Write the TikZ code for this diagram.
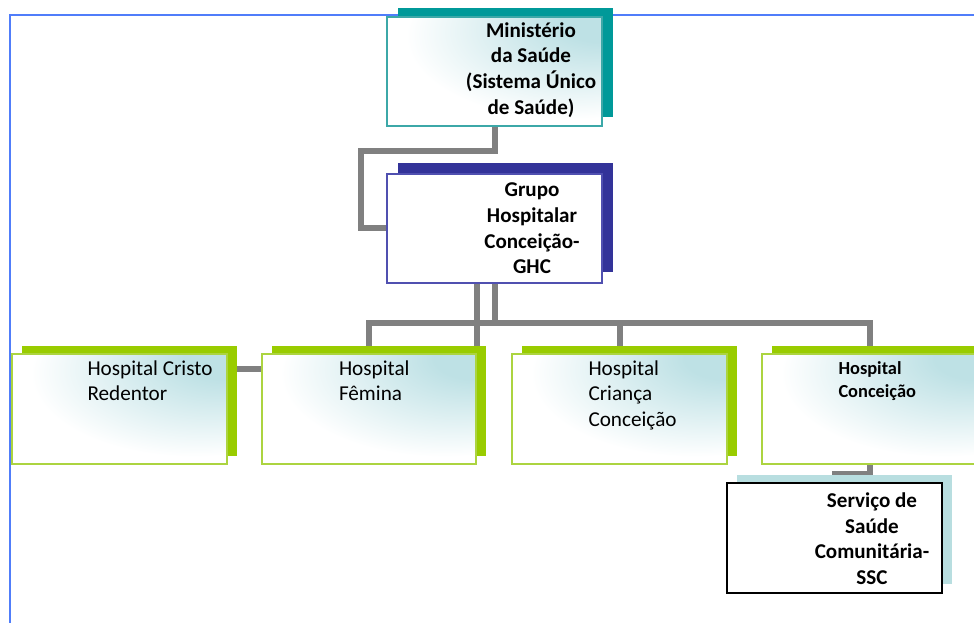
\documentclass[tikz,border=0pt]{standalone}
\usepackage{fontspec}
\setmainfont{Carlito}
\usetikzlibrary{calc,shadows,backgrounds}
\definecolor{msteal}{RGB}{0,153,153}
\definecolor{msedge}{RGB}{60,168,168}
\definecolor{ghcnavy}{RGB}{51,51,153}
\definecolor{ghcedge}{RGB}{80,80,176}
\definecolor{hospgreen}{RGB}{153,204,0}
\definecolor{hospedge}{RGB}{172,212,64}
\definecolor{sscshadow}{RGB}{184,222,224}
\definecolor{glowteal}{RGB}{190,225,229}
\definecolor{frameblue}{RGB}{80,125,250}
\definecolor{linkgray}{RGB}{128,128,128}
\pgfdeclareradialshading{glow}{\pgfpoint{28bp}{26bp}}{color(0bp)=(glowteal); color(10bp)=(glowteal); color(38bp)=(white); color(100bp)=(white)}
\tikzset{
  orgbox/.style={rectangle, minimum width=161pt, minimum height=82pt, inner sep=0pt, line width=1.4pt},
  glowbox/.style={orgbox, shade, shading=glow},
  hospbox/.style={glowbox, draw=hospedge, general shadow={shadow xshift=7.5pt, shadow yshift=6pt, fill=hospgreen}},
  link/.style={linkgray, line width=4.5pt},
  boldtext/.style={font=\bfseries\fontsize{15.8}{19.2}\selectfont, align=center, inner sep=0pt},
  hosptext/.style={font=\fontsize{15.9}{19}\selectfont, align=left, inner sep=0pt, anchor=north west},
  smalltext/.style={font=\bfseries\fontsize{13.8}{17}\selectfont, align=left, inner sep=0pt, anchor=north west}
}
\begin{document}
\begin{tikzpicture}[x=0.75pt,y=-0.75pt]
\useasboundingbox (0,0) rectangle (974,623);
\node[glowbox, draw=msedge, general shadow={shadow xshift=8.25pt, shadow yshift=6.75pt, fill=msteal}] (ms) at (494.5,71.5) {};
\node[boldtext] (mstext) at (531,70) {Ministério\\da Saúde\\(Sistema Único\\de Saúde)};
\node[orgbox, draw=ghcedge, fill=white, general shadow={shadow xshift=8.25pt, shadow yshift=8.25pt, fill=ghcnavy}] (ghc) at (494.5,228.5) {};
\node[boldtext] (ghctext) at (532,228.5) {Grupo\\Hospitalar\\Conceição-\\GHC};
\node[hospbox] (cr) at (119.5,409) {};
\node[hosptext] (crtext) at ($(cr.north west)+(76,7)$) {Hospital Cristo\\Redentor};
\node[hospbox] (fem) at (369,409) {};
\node[hosptext] (femtext) at ($(fem.north west)+(78,7)$) {Hospital\\Fêmina};
\node[hospbox] (cri) at (619.5,409) {};
\node[hosptext] (critext) at ($(cri.north west)+(77,7)$) {Hospital\\Criança\\Conceição};
\node[hospbox] (con) at (869.5,409) {};
\node[smalltext] (context) at ($(con.north west)+(77,8)$) {Hospital\\Conceição};
\node[orgbox, draw=black, fill=white, general shadow={shadow xshift=7.5pt, shadow yshift=6.5pt, fill=sscshadow}] (ssc) at (834.5,538) {};
\node[boldtext] (ssctext) at (872,538.5) {Serviço de\\Saúde\\Comunitária-\\SSC};
\begin{scope}[on background layer]
\draw[frameblue, line width=1.2pt] (10,623) -- (10,15) -- (974,15);
\draw[link] (ms.south) -- ++(0,24) -| ($(ghc.west)+(-25,0)$) -- (ghc.west);
\coordinate (bus) at ($(ghc.south)+(0,39)$);
\draw[link] (ghc.south) -- (bus);
\draw[link] (fem.north east |- ghc.south) -- (fem.north east);
\draw[link] (fem.north) |- (con.north |- bus) -- (con.north);
\draw[link] (bus -| cri.north) -- (cri.north);
\draw[link] ($(cr.north east)+(0,16)$) -- ($(fem.north west)+(0,16)$);
\draw[link] (con.south) -- ++(0,9) -| (ssc.north);
\end{scope}
\end{tikzpicture}
\end{document}
